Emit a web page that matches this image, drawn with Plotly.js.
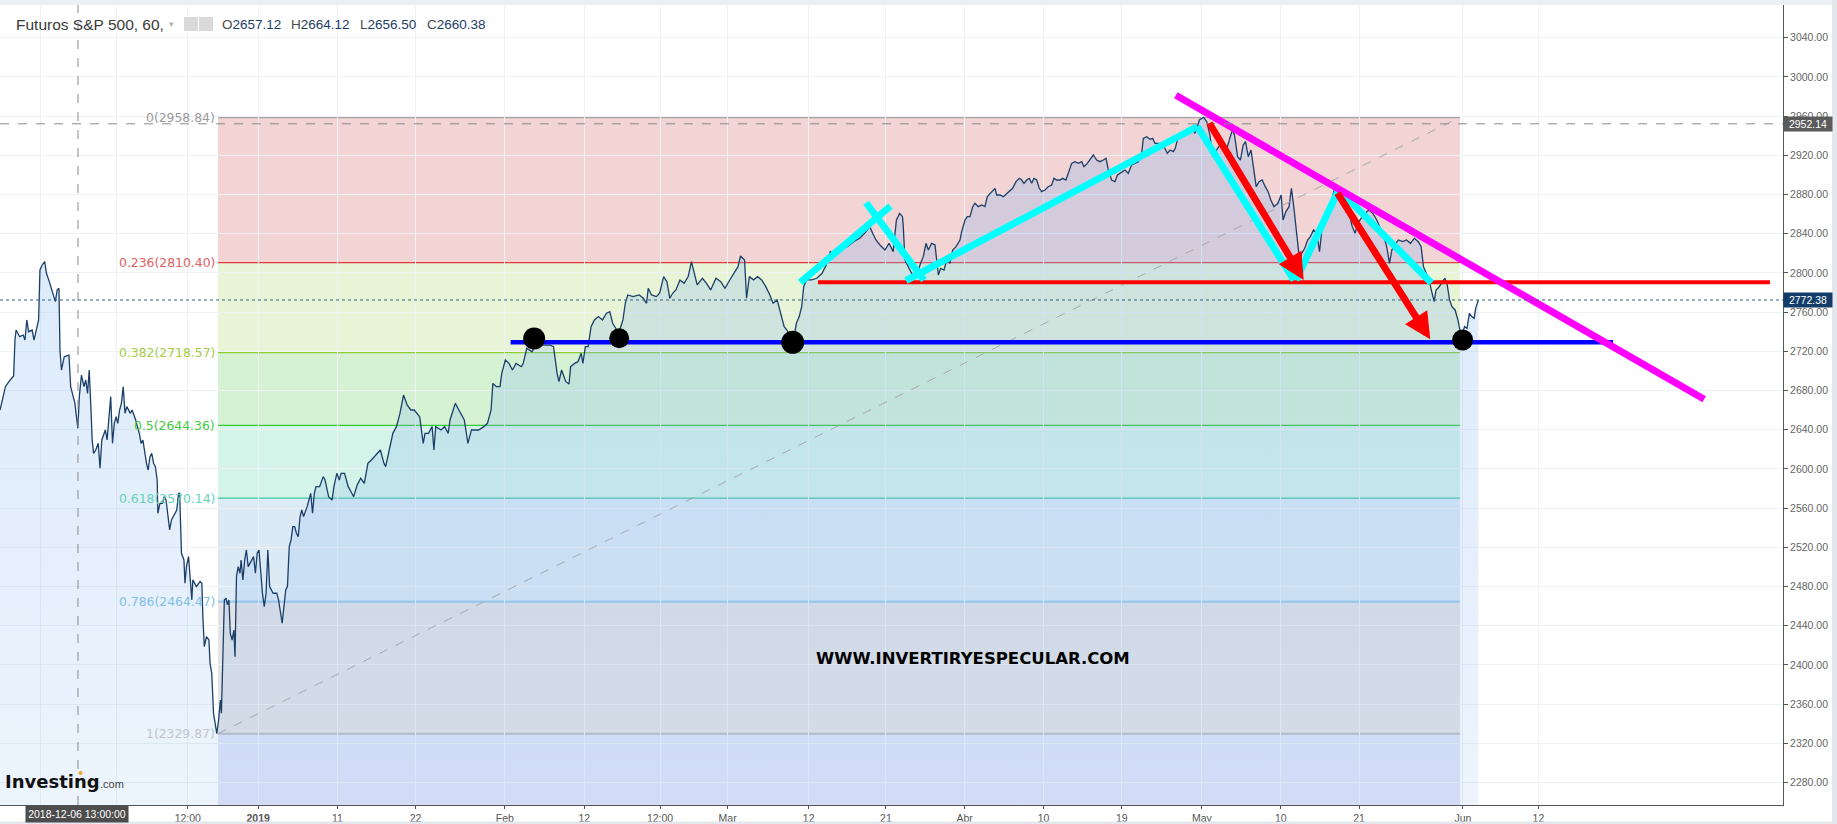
<!DOCTYPE html>
<html>
<head>
<meta charset="utf-8">
<script src="https://cdn.plot.ly/plotly-3.0.1.min.js"></script>
<style>html,body{margin:0;padding:0;background:#fff;}#chart{width:1837px;height:824px;}</style>
</head>
<body>
<div id="chart"></div>
<script>
// ---------- DATA ----------
// x = trading-day index (0 = 2019-01-02), y = price
const decDay = [-22.95,-22.70,-22.47,-22.16,-21.74,-21.62,-21.52,-21.20,-20.89,-20.73,
-20.57,-20.41,-20.09,-19.93,-19.78,-19.52,-19.40,-19.20,-18.98,-18.82,
-18.57,-18.35,-18.19,-18.03,-17.87,-17.71,-17.62,-17.49,-17.24,-16.82,
-16.67,-16.44,-16.29,-16.19,-16.03,-15.90,-15.71,-15.49,-15.33,-15.17,
-15.02,-14.85,-14.76,-14.63,-14.44,-14.22,-14.06,-13.90,-13.59,-13.43,
-13.27,-13.11,-12.95,-12.79,-12.63,-12.48,-12.32,-12.16,-12.00,-11.84,
-11.68,-11.36,-11.21,-10.89,-10.57,-10.41,-10.25,-10.09,-9.93,-9.78,
-9.62,-9.46,-9.30,-9.14,-8.98,-8.92,-8.73,-8.51,-8.35,-8.19,
-8.03,-7.87,-7.71,-7.39,-7.24,-7.08,-6.98,-6.82,-6.60,-6.51,
-6.38,-6.19,-6.03,-5.90,-5.81,-5.49,-5.17,-5.01,-4.92,-4.79,
-4.60,-4.38,-4.28,-4.13,-3.97,-3.81,-3.68,-3.52,-3.36,-3.27,
-3.11,-3.01,-2.86,-2.73,-2.60,-2.48,-2.32,-2.16,-2.06,-1.93,
-1.78,-1.62,-1.52,-1.36,-1.20,-1.05,-0.89,-0.57,-0.41,-0.25,
-0.09,0.07,0.22,0.38,0.54,0.70,0.86,1.02,1.33,1.65,
1.81,1.97,2.13,2.29,2.45,2.60,2.76,2.92,3.08,3.24,
3.40,3.56,3.72,3.87,4.03,4.35,4.67,4.83,4.99,5.14,
5.46,5.78,5.94,6.26,6.57,6.73,6.99,7.21,7.37,7.68,
8.00,8.32,8.48,8.80,9.11,9.43,9.75,10.06,10.54,10.86,
11.18,11.33,11.65,11.97,12.29,12.60,12.92,13.24,13.56,13.87,
14.35,14.67,14.83,15.14,15.46,15.62,15.78,16.25,16.57,16.89,
17.05,17.52,17.84,18.32,18.64,18.95,19.59,20.06,20.38,20.70,
20.86,21.17,21.49,21.65,21.97,22.29,22.60,22.92,23.40,23.56,
23.87,24.35,24.67,25.30,25.94,26.25,26.57,26.73];
const decVal = [2660.1,2673.7,2683.9,2689.0,2694.8,2731.5,2741.7,2734.9,2736.6,2731.5,
2752.0,2740.0,2741.7,2731.5,2738.3,2752.0,2803.0,2808.1,2811.5,2799.6,
2791.1,2782.6,2777.5,2770.7,2782.6,2784.3,2721.3,2700.9,2714.5,2716.2,
2683.9,2673.7,2666.9,2656.7,2641.4,2673.7,2695.8,2683.9,2690.7,2677.1,
2700.9,2656.7,2629.5,2615.9,2619.3,2626.1,2600.6,2629.5,2639.7,2629.5,
2656.7,2673.7,2626.1,2646.5,2653.3,2646.5,2660.1,2666.9,2683.9,2656.7,
2663.5,2656.7,2660.1,2649.9,2636.3,2626.1,2629.5,2615.9,2605.7,2598.9,
2612.5,2615.9,2605.7,2602.3,2588.7,2554.7,2564.9,2564.9,2571.7,2568.3,
2554.7,2537.7,2547.9,2554.7,2558.1,2575.1,2575.1,2513.9,2507.1,2483.3,
2500.3,2510.5,2483.3,2466.3,2486.7,2479.9,2485.0,2483.3,2449.3,2418.6,
2428.8,2425.4,2401.6,2391.4,2350.6,2340.4,2329.9,2343.8,2364.2,2350.6,
2425.4,2466.3,2468.0,2461.2,2466.3,2432.2,2425.4,2435.6,2408.4,2490.1,
2500.3,2493.5,2507.1,2486.7,2507.1,2517.3,2500.3,2507.1,2510.5,2493.5,
2513.9,2517.3,2493.5,2473.1,2459.5,2473.1,2517.3,2479.9,2473.1,2473.1,
2466.3,2452.7,2442.5,2459.5,2476.5,2479.9,2520.7,2527.5,2541.1,2541.1,
2534.3,2530.9,2551.3,2558.1,2551.3,2561.5,2575.1,2554.7,2575.1,2581.9,
2581.9,2592.1,2588.7,2571.7,2568.3,2581.9,2595.5,2588.7,2595.5,2595.5,
2581.9,2575.1,2571.7,2583.6,2590.4,2585.3,2605.7,2609.1,2615.9,2619.3,
2605.7,2602.3,2619.3,2636.3,2643.1,2656.7,2675.4,2665.2,2660.1,2660.1,
2653.3,2626.1,2636.3,2636.3,2643.1,2619.3,2643.1,2639.7,2643.1,2636.3,
2649.9,2666.9,2660.1,2649.9,2626.1,2639.7,2639.7,2643.1,2646.5,2660.1,
2687.3,2683.9,2683.9,2697.5,2711.1,2707.7,2700.9,2707.7,2704.3,2707.7,
2723.0,2719.6,2728.1,2726.4,2726.4,2724.7,2697.5,2689.0];

const febDay = [26.97,27.34,27.63,27.77,28.13,28.42,28.71,28.86,29.08,29.33,
29.59,29.88,30.24,30.60,30.96,31.25,31.51,31.80,32.05,32.42,
32.63,32.85,33.32,33.87,34.23,34.52,34.67,34.96,35.39,35.68,
36.04,36.33,36.59,36.84,37.13,37.49,37.86,38.22,38.51,38.77,
39.02,39.49,39.85,40.22,40.69,41.12,41.49,41.92,42.39,42.65,
42.87,43.23,43.41,43.66,44.03,44.39,44.75,45.12,45.48,45.77,
46.13,46.49,46.75,47.00,47.29,47.58,47.84,48.09,48.31,48.49,
48.74,49.18,49.65,50.12,50.49,50.85,51.28,51.83,52.37,52.92,
53.46,53.90,54.37,54.62,54.91,55.27,55.71,56.07,56.44,56.73,
57.02,57.27];
const febVal = [2700.9,2689.0,2686.6,2704.3,2707.7,2709.4,2718.0,2707.7,2724.8,2724.8,
2745.2,2752.0,2755.4,2752.0,2758.8,2760.5,2748.6,2743.5,2738.4,2752.0,
2769.0,2777.5,2775.8,2777.5,2774.1,2769.0,2784.3,2777.5,2775.8,2779.2,
2796.2,2791.1,2774.1,2779.2,2782.6,2792.8,2789.4,2796.2,2811.5,2799.6,
2787.7,2794.5,2789.4,2782.6,2794.5,2791.1,2784.3,2792.8,2801.3,2806.4,
2817.3,2813.2,2774.1,2796.2,2792.8,2796.2,2792.8,2786.0,2777.5,2769.0,
2772.4,2755.4,2745.2,2741.7,2735.0,2731.5,2748.6,2755.4,2765.6,2786.0,
2792.8,2792.8,2794.5,2799.6,2808.1,2821.7,2818.3,2825.1,2826.8,2831.9,
2835.3,2840.4,2847.2,2840.4,2833.6,2828.5,2823.4,2830.2,2821.7,2854.0,
2860.8,2857.4];

const aprDay = [57.34,57.49,57.79,58.08,58.38,58.68,58.88,59.12,59.36,59.57,
59.86,60.16,60.31,60.46,60.66,60.96,61.20,61.49,61.73,62.03,
62.38,62.53,62.83,63.03,63.27,63.51,63.71,64.01,64.31,64.60,
64.81,65.05,65.34,65.49,65.64,65.94,66.23,66.53,66.83,67.06,
67.36,67.66,67.86,68.07,68.31,68.54,68.75,68.96,69.20,69.43,
69.64,69.94,70.23,70.53,70.74,70.97,71.27,71.51,71.80,72.01,
72.31,72.60,72.90,73.20,73.40,73.70,74.00,74.23,74.53,74.83,
75.12,75.36,75.57,75.86,76.16,76.37,76.60,77.05,77.34,77.64,
77.94,78.23,78.53,78.68,78.97,79.27,79.51,79.71,80.01,80.31,
80.60,80.81,81.05,81.34,81.52,81.70,81.94,82.23,82.53,82.83,
83.12,83.27,83.48,83.66,83.87];
const aprVal = [2847.2,2813.2,2806.4,2799.6,2799.6,2803.0,2809.8,2816.6,2830.2,2823.4,
2830.2,2828.5,2813.2,2797.9,2804.7,2803.0,2813.2,2809.8,2823.4,2826.8,
2833.6,2842.1,2854.0,2857.4,2857.4,2867.6,2871.0,2867.6,2869.3,2867.6,
2877.8,2881.2,2884.6,2886.3,2879.5,2879.5,2877.8,2881.2,2884.6,2886.3,
2893.1,2896.5,2894.8,2891.4,2894.8,2896.5,2891.4,2896.5,2894.8,2886.3,
2882.9,2884.6,2888.0,2889.7,2896.5,2894.8,2894.8,2896.5,2894.8,2901.6,
2911.8,2913.5,2911.8,2913.5,2908.4,2911.8,2916.9,2920.3,2915.2,2913.5,
2915.2,2916.9,2905.0,2894.8,2893.1,2899.9,2901.6,2905.0,2901.6,2910.1,
2911.8,2913.5,2922.0,2937.3,2939.0,2936.3,2937.3,2932.2,2932.2,2932.2,
2927.1,2922.0,2925.4,2923.7,2927.1,2935.6,2942.4,2944.1,2945.8,2947.5,
2945.8,2942.4,2949.2,2956.0,2957.7];

const mayDay = [84.04,84.32,84.60,84.84,85.09,85.37,85.72,86.07,86.36,86.60,
86.78,87.06,87.31,87.55,87.76,88.01,88.25,88.46,88.71,88.96,
89.24,89.52,89.77,90.01,90.29,90.64,90.93,91.10,91.35,91.63,
91.84,92.05,92.23,92.40,92.58,92.75,93.03,93.28,93.53,93.81,
94.09,94.34,94.58,94.86,95.14,95.39,95.64,95.92,96.27,96.62,
96.97,97.25,97.50,97.74,98.03,98.38,98.73,99.08,99.43,99.78,
100.06,100.31,100.56,100.77,101.01,101.36,101.72,102.07,102.42,102.77,
103.12,103.37,103.58,103.83,104.07,104.35,104.53,104.70,104.98,105.27,
105.48,105.69,105.90,106.11,106.39,106.64,106.81,107.02,107.23,107.45,
107.66,107.87,108.08,108.22,108.46];
const mayVal = [2958.8,2954.3,2940.7,2918.6,2923.7,2928.8,2932.2,2925.4,2937.3,2945.8,
2940.7,2918.6,2915.2,2930.5,2933.9,2918.6,2925.4,2908.4,2888.0,2893.1,
2894.8,2888.0,2882.9,2874.4,2867.6,2871.0,2879.5,2854.0,2862.5,2867.6,
2886.3,2867.6,2850.6,2833.6,2811.5,2820.0,2825.1,2833.6,2837.0,2843.8,
2840.4,2821.7,2847.2,2854.0,2864.2,2872.7,2884.6,2885.3,2879.5,2872.7,
2860.8,2847.2,2840.4,2850.6,2855.7,2860.8,2864.2,2860.8,2854.0,2843.8,
2837.0,2826.8,2809.8,2823.4,2828.5,2833.6,2831.9,2833.6,2830.2,2835.3,
2831.9,2826.8,2806.4,2799.6,2792.8,2779.2,2770.7,2782.6,2785.9,2791.1,
2794.5,2787.7,2772.4,2765.6,2762.2,2752.0,2742.4,2736.7,2745.2,2743.5,
2758.8,2755.4,2753.6,2763.9,2772.38];

// Fibonacci retracement
const fibRatios = [0, 0.236, 0.382, 0.5, 0.618, 0.786, 1, 1.618];
const fibLevels = [2958.84, 2810.40, 2718.57, 2644.36, 2570.14, 2464.47, 2329.87, 1941.14];
const fibStartDay = -3.57;
const fibEndDay = 106.83;

// Axis ticks
const xTickVals = [-19.34, -12.58, -6.26, 0, 7.04, 13.98, 21.93, 28.98, 35.72, 41.73, 48.93, 55.8, 62.79, 69.81, 76.76, 83.88, 90.9, 97.85, 107.09, 113.8];
const xTickText = ['', '', '12:00', '<b>2019</b>', '11', '22', 'Feb', '12', '12:00', 'Mar', '12', '21', 'Abr', '10', '19', 'May', '10', '21', 'Jun', '12'];

// Header / markers
const ohlcLabels = ['O', 'H', 'L', 'C'];
const ohlcValues = ['2657.12', '2664.12', '2656.50', '2660.38'];
const lastPrice = 2772.38;
const markPrice = 2952.14;
const crossDay = -16.02;
const crossLabel = '2018-12-06 13:00:00';

// Drawings
const supportLevel = 2729.2, supportFrom = 22.44, supportTo = 120.43;
const resistLevel = 2790.4, resistFrom = 49.76, resistTo = 134.38;
const trendDay = [81.57, 128.53];
const trendVal = [2981.2, 2671.0];
const zigDay = [[48.18, 56.20], [54.03, 59.18], [57.58, 83.48], [83.48, 92.07], [92.25, 96.07], [96.07, 104.29]];
const zigVal = [[2790.3, 2868.1], [2871.6, 2792.7], [2792.2, 2949.4], [2949.4, 2792.7], [2792.7, 2885.6], [2884.6, 2789.7]];
const arrowTailDay = [84.47, 95.85], arrowTailVal = [2954.3, 2882.9];
const arrowHeadDay = [92.93, 104.18], arrowHeadVal = [2792.8, 2732.2];
const dotDay = [24.53, 32.09, 47.51, 107.06];
const dotVal = [2733.0, 2733.3, 2729.2, 2731.5];

// ---------- STYLES ----------
const fibZoneColors = ['rgba(203,83,83,0.25)', 'rgba(163,211,91,0.25)', 'rgba(87,203,79,0.25)', 'rgba(79,207,163,0.24)', 'rgba(79,151,207,0.2)', 'rgba(139,139,147,0.24)', 'rgba(143,155,231,0.28)'];
const fibLineColors = ['#a3a3a3', '#e03c3c', '#8fce2e', '#35c935', '#3ccaa0', '#9ccbec', '#b8bcc4'];
const fibLineWidths = [2, 1.3, 1.3, 1.3, 1.3, 2.2, 2];
const fibTextColors = ['#9a9a9a', '#e06060', '#a6cc44', '#44c844', '#66d2bb', '#80c0e8', '#c0c6ce'];

// ---------- BUILD ----------
const priceDay = decDay.concat(febDay, aprDay, mayDay);
const priceVal = decVal.concat(febVal, aprVal, mayVal);
if (priceDay.length !== priceVal.length) throw new Error('length mismatch ' + priceDay.length + ' vs ' + priceVal.length);

const W = 1837, H = 824, mL = 0, mR = 54, mT = 5, mB = 19;
const plotW = W - mL - mR, plotH = H - mT - mB;
const px = v => v / plotW;               // pixel -> paper x
const py = v => (H - mB - v) / plotH;    // pixel (from top) -> paper y

const traces = [];
traces.push({
  x: priceDay, y: priceVal, type: 'scatter', mode: 'lines',
  line: {color: '#1b3f68', width: 1.3},
  fill: 'tozeroy',
  fillgradient: {type: 'vertical', start: 2257, stop: 2960,
    colorscale: [[0, 'rgba(130,180,240,0.15)'], [1, 'rgba(130,180,240,0.30)']]},
  hoverinfo: 'skip', showlegend: false
});
// dashed diagonal of the fib tool
traces.push({x: [fibStartDay, fibEndDay], y: [fibLevels[6], fibLevels[0]], type: 'scatter', mode: 'lines',
  line: {color: '#a8a8a8', width: 1, dash: 'dash'}, hoverinfo: 'skip', showlegend: false});
// support (blue) and resistance (red)
traces.push({x: [supportFrom, supportTo], y: [supportLevel, supportLevel], type: 'scatter', mode: 'lines',
  line: {color: '#0000ff', width: 4.5}, hoverinfo: 'skip', showlegend: false});
traces.push({x: [resistFrom, resistTo], y: [resistLevel, resistLevel], type: 'scatter', mode: 'lines',
  line: {color: '#ff0000', width: 4}, hoverinfo: 'skip', showlegend: false});
// cyan zigzag
const zx = [], zy = [];
zigDay.forEach((seg, i) => { zx.push(seg[0], seg[1], null); zy.push(zigVal[i][0], zigVal[i][1], null); });
traces.push({x: zx, y: zy, type: 'scatter', mode: 'lines', connectgaps: false,
  line: {color: '#00ffff', width: 7}, hoverinfo: 'skip', showlegend: false});
// magenta trend line
traces.push({x: trendDay, y: trendVal, type: 'scatter', mode: 'lines',
  line: {color: '#ff00ff', width: 7}, hoverinfo: 'skip', showlegend: false});
// black dots
traces.push({x: dotDay, y: dotVal, type: 'scatter', mode: 'markers', opacity: 1,
  marker: {color: '#000000', opacity: 1, size: [22, 20, 23, 21], line: {width: 0}}, hoverinfo: 'skip', showlegend: false});

const shapes = [];
for (let i = 0; i < fibZoneColors.length; i++) {
  shapes.push({type: 'rect', xref: 'x', yref: 'y', x0: fibStartDay, x1: fibEndDay,
    y0: fibLevels[i + 1], y1: fibLevels[i], fillcolor: fibZoneColors[i], line: {width: 0}, layer: 'below'});
}
for (let i = 0; i < fibLineColors.length; i++) {
  shapes.push({type: 'line', xref: 'x', yref: 'y', x0: fibStartDay, x1: fibEndDay,
    y0: fibLevels[i], y1: fibLevels[i], line: {color: fibLineColors[i], width: fibLineWidths[i]}, layer: 'below'});
}
shapes.push({type: 'line', xref: 'paper', yref: 'y', x0: 0, x1: 1, y0: markPrice, y1: markPrice,
  line: {color: '#8a8a8a', width: 1, dash: 'dash'}, layer: 'above'});
shapes.push({type: 'line', xref: 'paper', yref: 'y', x0: 0, x1: 1, y0: lastPrice, y1: lastPrice,
  line: {color: '#3a5f86', width: 1, dash: 'dot'}, layer: 'above'});
shapes.push({type: 'line', xref: 'x', yref: 'paper', x0: crossDay, x1: crossDay, y0: 0, y1: 1,
  line: {color: '#8a8a8a', width: 1, dash: 'dash'}, layer: 'above'});
// frame strips
shapes.push({type: 'rect', xref: 'paper', yref: 'paper', x0: px(0), x1: px(W), y0: py(5), y1: py(0),
  fillcolor: '#eceff3', line: {width: 0}, layer: 'above'});
shapes.push({type: 'rect', xref: 'paper', yref: 'paper', x0: px(1832), x1: px(W), y0: py(H), y1: py(0),
  fillcolor: '#e4e7ec', line: {width: 0}, layer: 'above'});
shapes.push({type: 'rect', xref: 'paper', yref: 'paper', x0: px(0), x1: px(W), y0: py(H), y1: py(821.5),
  fillcolor: '#e4e7ec', line: {width: 0}, layer: 'above'});
// header icons
shapes.push({type: 'rect', xref: 'paper', yref: 'paper', x0: px(184), x1: px(198), y0: py(31), y1: py(17),
  fillcolor: '#d9d9d9', line: {width: 0}, layer: 'above'});
shapes.push({type: 'rect', xref: 'paper', yref: 'paper', x0: px(199), x1: px(213), y0: py(31), y1: py(17),
  fillcolor: '#d9d9d9', line: {width: 0}, layer: 'above'});
// orange dot of the logo
shapes.push({type: 'circle', xref: 'paper', yref: 'paper', x0: px(78.5), x1: px(82.5), y0: py(775), y1: py(771),
  fillcolor: '#f5a623', line: {width: 0}, layer: 'above'});

const annotations = [];
for (let i = 0; i < fibTextColors.length; i++) {
  annotations.push({xref: 'x', yref: 'y', x: fibStartDay, y: fibLevels[i], xanchor: 'right', yanchor: 'middle',
    xshift: -1, showarrow: false, text: String(fibRatios[i]) + '(' + fibLevels[i].toFixed(2) + ')',
    font: {family: 'DejaVu Sans', size: 12.4, color: fibTextColors[i]}});
}
// red arrows
for (let i = 0; i < arrowTailDay.length; i++) {
  annotations.push({xref: 'x', yref: 'y', axref: 'x', ayref: 'y', x: arrowHeadDay[i], y: arrowHeadVal[i],
    ax: arrowTailDay[i], ay: arrowTailVal[i], showarrow: true, arrowhead: 2, arrowsize: 0.75, arrowwidth: 7,
    arrowcolor: '#ff0000', standoff: 0, text: ''});
}
// header
annotations.push({xref: 'paper', yref: 'paper', x: px(14), y: py(24), xanchor: 'left', yanchor: 'middle', showarrow: false,
  text: 'Futuros S&amp;P 500, 60,', font: {family: 'Liberation Sans', size: 15.5, color: '#3a3a3a'}});
annotations.push({xref: 'paper', yref: 'paper', x: px(171), y: py(24), xanchor: 'center', yanchor: 'middle', showarrow: false,
  text: '▾', font: {family: 'DejaVu Sans', size: 9, color: '#b0b0b0'}});
const ohlcX = [220, 289, 358, 424.5];
for (let i = 0; i < ohlcLabels.length; i++) {
  annotations.push({xref: 'paper', yref: 'paper', x: px(ohlcX[i]), y: py(24), xanchor: 'left', yanchor: 'middle', showarrow: false,
    text: '<span style="color:#4a4a4a">' + ohlcLabels[i] + '</span>' + ohlcValues[i],
    font: {family: 'Liberation Sans', size: 13.5, color: '#1d3d66'}});
}
// axis price labels
annotations.push({xref: 'paper', yref: 'y', x: 1, y: markPrice, xanchor: 'left', yanchor: 'middle', showarrow: false,
  text: markPrice.toFixed(2), bgcolor: '#5b5b5b', width: 44, height: 10, borderpad: 2,
  font: {family: 'Liberation Sans', size: 10.5, color: '#ffffff'}});
annotations.push({xref: 'paper', yref: 'y', x: 1, y: lastPrice, xanchor: 'left', yanchor: 'middle', showarrow: false,
  text: lastPrice.toFixed(2), bgcolor: '#123d6a', width: 44, height: 10, borderpad: 2,
  font: {family: 'Liberation Sans', size: 10.5, color: '#ffffff'}});
// crosshair date label
annotations.push({xref: 'paper', yref: 'paper', x: px(77), y: py(814), xanchor: 'center', yanchor: 'middle', showarrow: false,
  text: crossLabel, bgcolor: '#4d4d4d', width: 98, height: 12, borderpad: 2,
  font: {family: 'Liberation Sans', size: 10.5, color: '#ffffff'}});
// watermark
annotations.push({xref: 'paper', yref: 'paper', x: px(973), y: py(658), xanchor: 'center', yanchor: 'middle', showarrow: false,
  text: '<b>WWW.INVERTIRYESPECULAR.COM</b>', font: {family: 'DejaVu Sans', size: 16.5, color: '#000000'}});
// logo
annotations.push({xref: 'paper', yref: 'paper', x: px(3), y: py(781), xanchor: 'left', yanchor: 'middle', showarrow: false,
  text: '<b>Investing</b>', font: {family: 'DejaVu Sans', size: 18, color: '#111111'}});
annotations.push({xref: 'paper', yref: 'paper', x: px(98), y: py(784), xanchor: 'left', yanchor: 'middle', showarrow: false,
  text: '.com', font: {family: 'Liberation Sans', size: 11, color: '#444444'}});

const layout = {
  width: W, height: H,
  margin: {l: mL, r: mR, t: mT, b: mB, pad: 0},
  paper_bgcolor: '#ffffff', plot_bgcolor: '#ffffff',
  showlegend: false,
  xaxis: {range: [-22.951, 135.538], tickmode: 'array', tickvals: xTickVals, ticktext: xTickText,
    showgrid: true, gridcolor: '#eef1f5', gridwidth: 1, zeroline: false,
    showline: true, linecolor: '#555555', linewidth: 1, ticks: 'outside', ticklen: 3, tickcolor: '#555555',
    tickfont: {family: 'Liberation Sans', size: 10.5, color: '#555555'}, fixedrange: true},
  yaxis: {range: [2257.04, 3073.37], side: 'right', tick0: 2280, dtick: 40, tickformat: '.2f',
    showgrid: true, gridcolor: '#eef1f5', gridwidth: 1, zeroline: false,
    showline: true, linecolor: '#555555', linewidth: 1, ticks: 'outside', ticklen: 4, tickcolor: '#555555',
    tickfont: {family: 'Liberation Sans', size: 10.5, color: '#666666'}, fixedrange: true},
  shapes: shapes,
  annotations: annotations
};

Plotly.newPlot('chart', traces, layout, {displayModeBar: false, staticPlot: true});
</script>
</body>
</html>
